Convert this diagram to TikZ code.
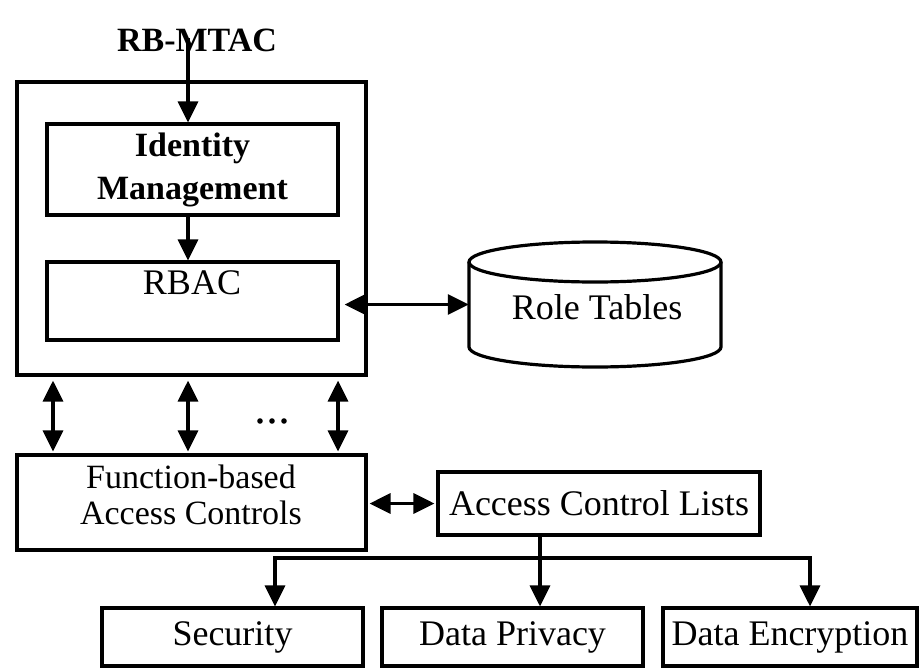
\documentclass[tikz,border=0pt]{standalone}
\usepackage{fontspec}
\setmainfont{Liberation Serif}
\usetikzlibrary{arrows.meta}
\begin{document}
\begin{tikzpicture}[x=1pt,y=-1pt,
  box/.style={draw, line width=3.2pt, inner sep=0pt, align=center},
  reg/.style={font=\fontsize{36}{38}\selectfont},
  bld/.style={font=\fontsize{34}{43}\selectfont\bfseries},
  line/.style={line width=3.2pt},
  tip/.tip={Triangle[width=20pt,length=21pt]},
  conn/.style={line width=3.2pt, -tip},
  dconn/.style={line width=3.2pt, tip-tip},
]
\useasboundingbox (0,0) rectangle (919,672);

% nodes
\node[bld] (rb) at (197,40) {RB-MTAC};
\node[box, minimum width=349pt, minimum height=293pt] (outer) at (191.5,228.5) {};
\node[box, bld, minimum width=291pt, minimum height=91pt] (idm) at (192.5,169.5) {Identity\\Management};
\node[box, minimum width=291pt, minimum height=78pt] (rbac) at (192.5,301) {};
\node[reg] (rbact) at (192,283) {RBAC};

\node[reg, minimum width=252pt, minimum height=125pt, inner sep=0pt] (rt) at (595,304.5) {};
\node[reg] (rtt) at (597,307) {Role Tables};
\draw[line] (595,262) ellipse [x radius=126pt, y radius=20pt];
\draw[line] (469,262) -- (469,347) arc[start angle=180, end angle=360, x radius=126pt, y radius=20pt] -- (721,262);

\node[box, minimum width=349pt, minimum height=95pt] (func) at (191.5,502.5) {};
\node[font=\fontsize{34}{36}\selectfont, align=center] (funct) at (191,495) {Function-based\\Access Controls};
\node[box, reg, minimum width=322pt, minimum height=63pt] (acl) at (599,503.5) {Access Control Lists};
\node[box, reg, minimum width=261pt, minimum height=58pt] (sec) at (232.5,637) {Security};
\node[box, reg, minimum width=261pt, minimum height=58pt] (dp) at (512.5,637) {Data Privacy};
\node[box, reg, minimum width=254pt, minimum height=58pt] (de) at (790,637) {Data Encryption};

% connectors
\coordinate (rbs) at (188,38);
\draw[conn] (rbs) -- (rbs |- idm.north);
\draw[conn] (idm.south -| rbs) -- (rbac.north -| rbs);
\draw[dconn, shorten <=5pt] (rt.west -| rbac.east) -- (rt.west);

\foreach \xx in {53,188,338}
  \draw[dconn, shorten <=4pt, shorten >=2pt] (outer.south -| \xx,0) -- (func.north -| \xx,0);
\foreach \xx in {260,272,284}
  \fill (\xx,421) circle[radius=2.8pt];

\draw[dconn, shorten <=2pt, shorten >=2pt] (acl.west -| func.east) -- (acl.west);

\coordinate (j) at (540,558);
\coordinate (jl) at (275,558);
\coordinate (jr) at (810,558);
\draw[line] (acl.south -| j) -- (j);
\draw[dconn, line join=miter] (sec.north -| jl) -- (jl) -- (jr) -- (de.north -| jr);
\draw[conn] (j) -- (dp.north -| j);
\end{tikzpicture}
\end{document}
